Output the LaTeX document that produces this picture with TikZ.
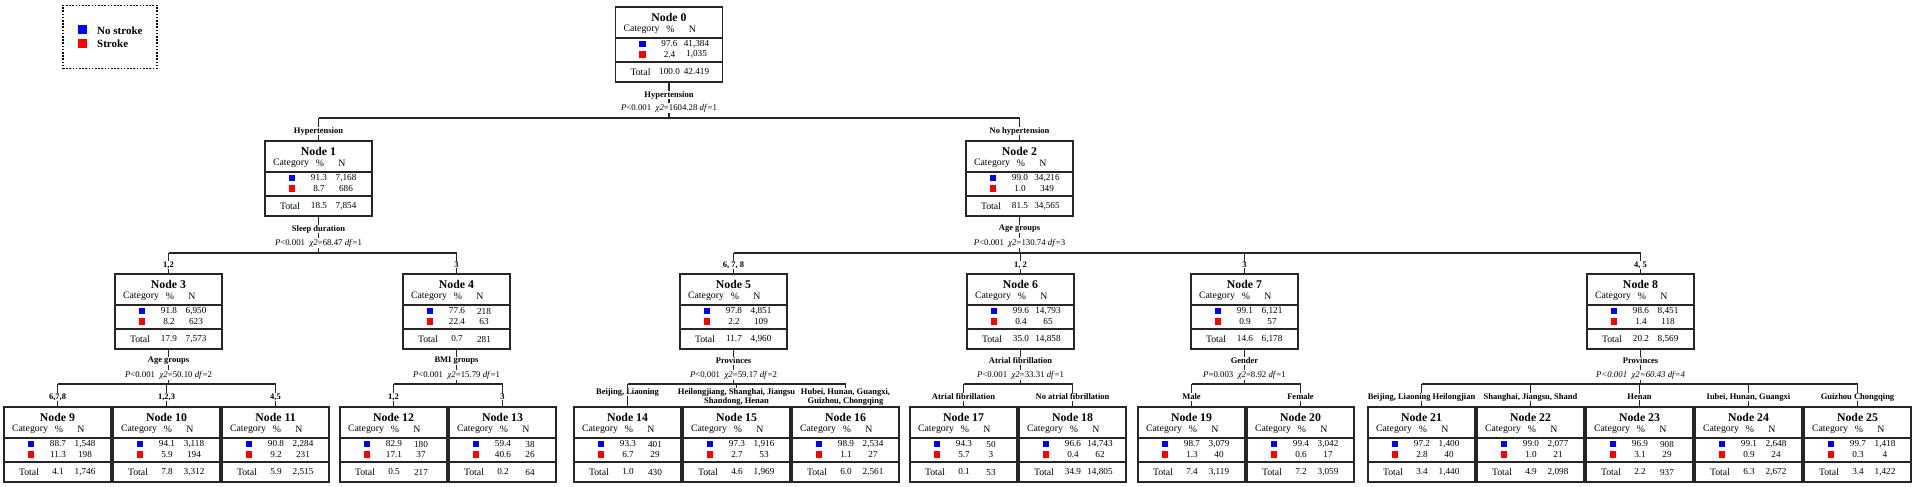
\documentclass[tikz,border=0pt]{standalone}
\usepackage{fontspec}
\setmainfont{Liberation Serif}
\usetikzlibrary{calc}
\tikzset{
  box/.style={draw=black!85, line width=1.4pt, minimum width=107pt, minimum height=75pt, inner sep=0pt, outer sep=0pt},
  conn/.style={draw=black!85, line width=1.4pt},
  div/.style={draw=black!85, line width=1.2pt},
  ttl/.style={font=\fontsize{11.8}{12}\selectfont\bfseries, inner sep=0pt},
  txt/.style={font=\fontsize{9.8}{10}\selectfont, inner sep=0pt},
  val/.style={font=\fontsize{9.2}{10}\selectfont, inner sep=0pt},
  lab/.style={font=\fontsize{8.5}{9.6}\selectfont\bfseries, fill=white, inner sep=0.6pt, align=center},
  plab/.style={font=\fontsize{8.8}{9}\selectfont, fill=white, inner sep=0.6pt},
  sq/.style={inner sep=0pt, outer sep=0pt, minimum size=6.5pt},
}
\newcommand{\TreeBox}[9]{%
  \node[box] (n#3) at ({#1+53.5},{#2+37.5}) {};
  \node[ttl] (n#3t) at ({#1+53.5},{#2+10.5}) {Node #3};
  \node[txt] (n#3c) at ({#1+26},{#2+22.5}) {Category};
  \node[txt] (n#3pc) at ({#1+55},{#2+22.5}) {\%};
  \node[txt] (n#3nc) at ({#1+77},{#2+22.5}) {N};
  \draw[div] ([yshift=-31pt]n#3.north west) -- ([yshift=-31pt]n#3.north east);
  \draw[div] ([yshift=-55pt]n#3.north west) -- ([yshift=-55pt]n#3.north east);
  \node[sq, fill=blue] (n#3b) at ({#1+27},{#2+37}) {};
  \node[sq, fill=red] (n#3r) at ({#1+27},{#2+47.5}) {};
  \node[val] (n#3p1) at ({#1+54},{#2+37}) {#4};
  \node[val] (n#3n1) at ({#1+81},{#2+37}) {#5};
  \node[val] (n#3p2) at ({#1+54},{#2+47.5}) {#6};
  \node[val] (n#3n2) at ({#1+81},{#2+47.5}) {#7};
  \node[txt] (n#3tl) at ({#1+25},{#2+65}) {Total};
  \node[val] (n#3pt) at ({#1+54},{#2+65}) {#8};
  \node[val] (n#3nt) at ({#1+81},{#2+65}) {#9};
}
\begin{document}
\begin{tikzpicture}[x=1pt,y=-1pt]
\useasboundingbox (0,0) rectangle (1928,487);

% legend
\node[draw=black, line width=1.6pt, dash pattern=on 1.6pt off 1.6pt, minimum width=94pt, minimum height=63pt, inner sep=0pt] (legend) at (110,37) {};
\node[inner sep=0pt, minimum size=9pt, fill=blue] (lgb) at (82.5,29.5) {};
\node[inner sep=0pt, minimum size=9pt, fill=red] (lgr) at (82.5,44) {};
\node[anchor=west, font=\fontsize{11}{12}\selectfont\bfseries, inner sep=0pt] (lgbt) at (97,30.5) {No stroke};
\node[anchor=west, font=\fontsize{11}{12}\selectfont\bfseries, inner sep=0pt] (lgrt) at (97,44) {Stroke};

\coordinate (h0) at (669,118);
\coordinate (h1) at (0,253);
\coordinate (h2) at (0,384);

% nodes
\TreeBox{615.5}{7}{0}{97.6}{41,384}{2.4}{1,035}{100.0}{42.419}
\TreeBox{265}{141}{1}{91.3}{7,168}{8.7}{686}{18.5}{7,854}
\TreeBox{966}{141}{2}{99.0}{34,216}{1.0}{349}{81.5}{34,565}
\TreeBox{115}{274}{3}{91.8}{6,950}{8.2}{623}{17.9}{7,573}
\TreeBox{403}{274}{4}{77.6}{218}{22.4}{63}{0.7}{281}
\TreeBox{680}{274}{5}{97.8}{4,851}{2.2}{109}{11.7}{4,960}
\TreeBox{967}{274}{6}{99.6}{14,793}{0.4}{65}{35.0}{14,858}
\TreeBox{1191}{274}{7}{99.1}{6,121}{0.9}{57}{14.6}{6,178}
\TreeBox{1587}{274}{8}{98.6}{8,451}{1.4}{118}{20.2}{8,569}
\TreeBox{4}{407}{9}{88.7}{1,548}{11.3}{198}{4.1}{1,746}
\TreeBox{113}{407}{10}{94.1}{3,118}{5.9}{194}{7.8}{3,312}
\TreeBox{222}{407}{11}{90.8}{2,284}{9.2}{231}{5.9}{2,515}
\TreeBox{340}{407}{12}{82.9}{180}{17.1}{37}{0.5}{217}
\TreeBox{449}{407}{13}{59.4}{38}{40.6}{26}{0.2}{64}
\TreeBox{574}{407}{14}{93.3}{401}{6.7}{29}{1.0}{430}
\TreeBox{683}{407}{15}{97.3}{1,916}{2.7}{53}{4.6}{1,969}
\TreeBox{792}{407}{16}{98.9}{2,534}{1.1}{27}{6.0}{2,561}
\TreeBox{910}{407}{17}{94.3}{50}{5.7}{3}{0.1}{53}
\TreeBox{1019}{407}{18}{96.6}{14,743}{0.4}{62}{34.9}{14,805}
\TreeBox{1138}{407}{19}{98.7}{3,079}{1.3}{40}{7.4}{3,119}
\TreeBox{1247}{407}{20}{99.4}{3,042}{0.6}{17}{7.2}{3,059}
\TreeBox{1368}{407}{21}{97.2}{1,400}{2.8}{40}{3.4}{1,440}
\TreeBox{1477}{407}{22}{99.0}{2,077}{1.0}{21}{4.9}{2,098}
\TreeBox{1586}{407}{23}{96.9}{908}{3.1}{29}{2.2}{937}
\TreeBox{1695}{407}{24}{99.1}{2,648}{0.9}{24}{6.3}{2,672}
\TreeBox{1804}{407}{25}{99.7}{1,418}{0.3}{4}{3.4}{1,422}

% ---------- split 0 ----------
\draw[conn] (n0.south) -- (n0.south |- h0);
\draw[conn] (n1.north |- h0) -- (n2.north |- h0);
\foreach \c in {1,2} { \draw[conn] (n\c.north |- h0) -- (n\c.north); }
\node[lab] (s0) at (n0.south |- 0,95) {Hypertension};
\node[plab] (p0) at (n0.south |- 0,108) {\textit{P}<0.001\ \ \textit{χ2}=1604.28 \textit{df}=1};
\node[lab] (b1) at (n1.north |- 0,131) {Hypertension};
\node[lab] (b2) at (n2.north |- 0,131) {No hypertension};

% ---------- split 1 ----------
\draw[conn] (n1.south) -- (n1.south |- h1);
\draw[conn] (n3.north |- h1) -- (n4.north |- h1);
\foreach \c in {3,4} { \draw[conn] (n\c.north |- h1) -- (n\c.north); }
\node[lab] (s1) at (n1.south |- 0,229) {Sleep duration};
\node[plab] (p1) at (n1.south |- 0,243) {\textit{P}<0.001\ \ \textit{χ2}=68.47 \textit{df}=1};
\node[lab] (b3) at (n3.north |- 0,265) {1,2};
\node[lab] (b4) at (n4.north |- 0,265) {3};

% ---------- split 2 ----------
\draw[conn] (n2.south) -- (n2.south |- h1);
\draw[conn] (n5.north |- h1) -- (n8.north |- h1);
\foreach \c in {5,6,7,8} { \draw[conn] (n\c.north |- h1) -- (n\c.north); }
\node[lab] (s2) at (n2.south |- 0,229) {Age groups};
\node[plab] (p2) at (n2.south |- 0,243) {\textit{P}<0.001\ \ \textit{χ2}=130.74 \textit{df}=3};
\node[lab] (b5) at (n5.north |- 0,265) {6, 7, 8};
\node[lab] (b6) at (n6.north |- 0,265) {1, 2};
\node[lab] (b7) at (n7.north |- 0,265) {3};
\node[lab] (b8) at (n8.north |- 0,265) {4, 5};

% ---------- split 3 ----------
\draw[conn] (n3.south) -- (n3.south |- h2);
\draw[conn] (n9.north |- h2) -- (n11.north |- h2);
\foreach \c in {9,10,11} { \draw[conn] (n\c.north |- h2) -- (n\c.north); }
\node[lab] (s3) at (n3.south |- 0,361) {Age groups};
\node[plab] (p3) at (n3.south |- 0,375) {\textit{P}<0.001\ \ \textit{χ2}=50.10 \textit{df}=2};
\node[lab] (b9) at (n9.north |- 0,397) {6,7,8};
\node[lab] (b10) at (n10.north |- 0,397) {1,2,3};
\node[lab] (b11) at (n11.north |- 0,397) {4,5};

% ---------- split 4 ----------
\draw[conn] (n4.south) -- (n4.south |- h2);
\draw[conn] (n12.north |- h2) -- (n13.north |- h2);
\foreach \c in {12,13} { \draw[conn] (n\c.north |- h2) -- (n\c.north); }
\node[lab] (s4) at (n4.south |- 0,361) {BMI groups};
\node[plab] (p4) at (n4.south |- 0,375) {\textit{P}<0.001\ \ \textit{χ2}=15.79 \textit{df}=1};
\node[lab] (b12) at (n12.north |- 0,397) {1,2};
\node[lab] (b13) at (n13.north |- 0,397) {3};

% ---------- split 5 ----------
\draw[conn] (n5.south) -- (n5.south |- h2);
\draw[conn] (n14.north |- h2) -- (n16.north |- h2);
\foreach \c in {14,15,16} { \draw[conn] (n\c.north |- h2) -- (n\c.north); }
\node[lab] (s5) at (n5.south |- 0,361) {Provinces};
\node[plab] (p5) at (n5.south |- 0,375) {\textit{P}<0.001\ \ \textit{χ2}=59.17 \textit{df}=2};
\node[lab] (b14) at (n14.north |- 0,392) {Beijing, Liaoning};
\node[lab] (b15) at (n15.north |- 0,397) {Heilongjiang, Shanghai, Jiangsu\\Shandong, Henan};
\node[lab] (b16) at (n16.north |- 0,397) {Hubei, Hunan, Guangxi,\\Guizhou, Chongqing};

% ---------- split 6 ----------
\draw[conn] (n6.south) -- (n6.south |- h2);
\draw[conn] (n17.north |- h2) -- (n18.north |- h2);
\foreach \c in {17,18} { \draw[conn] (n\c.north |- h2) -- (n\c.north); }
\node[lab] (s6) at (n6.south |- 0,361) {Atrial fibrillation};
\node[plab] (p6) at (n6.south |- 0,375) {\textit{P}<0.001\ \ \textit{χ2}=33.31 \textit{df}=1};
\node[lab] (b17) at (n17.north |- 0,397) {Atrial fibrillation};
\node[lab] (b18) at (n18.north |- 0,397) {No atrial fibrillation};

% ---------- split 7 ----------
\draw[conn] (n7.south) -- (n7.south |- h2);
\draw[conn] (n19.north |- h2) -- (n20.north |- h2);
\foreach \c in {19,20} { \draw[conn] (n\c.north |- h2) -- (n\c.north); }
\node[lab] (s7) at (n7.south |- 0,361) {Gender};
\node[plab] (p7) at (n7.south |- 0,375) {\textit{P}=0.003\ \ \textit{χ2}=8.92 \textit{df}=1};
\node[lab] (b19) at (n19.north |- 0,397) {Male};
\node[lab] (b20) at (n20.north |- 0,397) {Female};

% ---------- split 8 ----------
\draw[conn] (n8.south) -- (n8.south |- h2);
\draw[conn] (n21.north |- h2) -- (n25.north |- h2);
\foreach \c in {21,22,23,24,25} { \draw[conn] (n\c.north |- h2) -- (n\c.north); }
\node[lab] (s8) at (n8.south |- 0,361) {Provinces};
\node[plab] (p8) at (n8.south |- 0,375) {\textit{P<0.001\ \ χ2=60.43 df=4}};
\node[lab] (b21) at (n21.north |- 0,397) {Beijing, Liaoning Heilongjian};
\node[lab] (b22) at (n22.north |- 0,397) {Shanghai, Jiangsu, Shand};
\node[lab] (b23) at (n23.north |- 0,397) {Henan};
\node[lab] (b24) at (n24.north |- 0,397) {Iubei, Hunan, Guangxi};
\node[lab] (b25) at (n25.north |- 0,397) {Guizhou Chongqing};
\end{tikzpicture}
\end{document}
